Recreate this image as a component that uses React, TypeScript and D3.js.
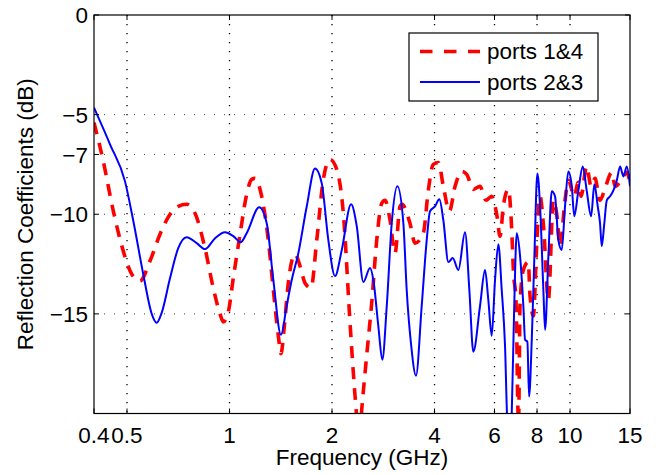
import React from "react";
import * as d3 from "d3";

// ports 1&4 (red dashed)
const freq14 = [0.4, 0.426, 0.456, 0.4876, 0.516, 0.546, 0.584, 0.625, 0.669, 0.707, 0.748, 0.792, 0.847, 0.896, 0.938, 0.959, 0.992, 1.026, 1.074, 1.123, 1.162, 1.188, 1.243, 1.3, 1.345, 1.391, 1.416, 1.449, 1.488, 1.557, 1.611, 1.666, 1.735, 1.804, 1.886, 1.973, 2.065, 2.159, 2.259, 2.31, 2.364, 2.4, 2.445, 2.528, 2.616, 2.706, 2.799, 2.862, 2.961, 3.062, 3.168, 3.211, 3.388, 3.505, 3.708, 3.835, 3.967, 4.105, 4.246, 4.422, 4.596, 4.808, 4.973, 5.2, 5.441, 5.666, 5.888, 6.104, 6.229, 6.37, 6.59, 6.742, 6.816, 6.94, 6.975, 7.01, 7.06, 7.133, 7.293, 7.541, 7.63, 7.803, 7.985, 8.166, 8.35, 8.638, 8.933, 9.141, 9.345, 9.667, 9.886, 10.29, 10.56, 10.77, 11.19, 11.53, 11.84, 12.25, 12.67, 13.26, 13.56, 14.19, 14.68, 15.0];
const db14 = [-5.4, -7.35, -9.85, -11.85, -13.0, -13.35, -12.35, -11.0, -10.0, -9.6, -9.5, -9.95, -11.7, -13.7, -15.0, -15.4, -14.9, -13.2, -11.0, -9.0, -8.25, -8.2, -9.1, -11.3, -13.8, -16.1, -17.0, -15.6, -13.45, -12.0, -12.6, -13.45, -13.7, -11.3, -8.25, -7.25, -7.75, -9.95, -15.45, -17.95, -20.2, -21.5, -19.8, -17.1, -14.45, -11.3, -9.45, -9.3, -10.3, -11.95, -9.6, -9.5, -10.45, -11.45, -10.95, -8.8, -7.5, -7.4, -8.6, -9.85, -8.6, -7.85, -8.0, -8.75, -8.6, -9.3, -9.1, -10.1, -11.1, -9.6, -8.75, -10.8, -12.8, -14.4, -16.1, -18.8, -20.5, -14.5, -12.8, -12.4, -14.1, -15.1, -11.5, -9.1, -10.5, -14.3, -9.3, -10.0, -11.6, -9.3, -8.3, -9.1, -8.4, -9.1, -7.6, -8.6, -8.2, -9.3, -8.7, -7.9, -8.6, -8.25, -7.9, -8.4];

// ports 2&3 (blue solid)
const freq23 = [0.4, 0.446, 0.4933, 0.522, 0.558, 0.591, 0.611, 0.632, 0.669, 0.707, 0.748, 0.801, 0.847, 0.907, 0.97, 1.026, 1.079, 1.123, 1.223, 1.286, 1.345, 1.416, 1.472, 1.523, 1.593, 1.686, 1.783, 1.866, 1.951, 2.041, 2.136, 2.275, 2.364, 2.472, 2.586, 2.645, 2.735, 2.81, 2.896, 2.995, 3.111, 3.24, 3.314, 3.412, 3.529, 3.668, 3.794, 3.88, 4.013, 4.133, 4.246, 4.392, 4.524, 4.699, 4.916, 5.062, 5.2, 5.441, 5.628, 5.755, 5.888, 6.022, 6.158, 6.301, 6.443, 6.545, 6.642, 6.742, 6.848, 6.975, 7.133, 7.293, 7.378, 7.494, 7.581, 7.72, 7.858, 8.018, 8.166, 8.35, 8.447, 8.638, 8.839, 9.036, 9.24, 9.454, 9.667, 9.886, 10.12, 10.29, 10.58, 10.9, 11.19, 11.53, 11.79, 12.06, 12.25, 12.39, 12.61, 12.82, 13.11, 13.41, 13.72, 14.03, 14.34, 14.68, 15.0];
const db23 = [-4.65, -6.5, -8.35, -10.35, -13.0, -15.0, -15.45, -14.95, -13.2, -11.7, -11.15, -11.45, -11.75, -11.2, -10.9, -11.1, -11.4, -10.95, -9.65, -10.45, -13.3, -16.05, -14.6, -13.3, -11.95, -9.6, -7.7, -8.45, -11.3, -13.1, -11.8, -9.5, -10.6, -13.4, -12.7, -13.3, -15.6, -17.3, -14.6, -10.45, -8.6, -10.45, -13.8, -16.5, -18.1, -14.6, -11.3, -9.85, -9.6, -9.25, -10.3, -12.4, -12.2, -12.8, -10.9, -13.8, -16.9, -14.6, -12.8, -14.3, -16.1, -13.3, -11.5, -13.8, -16.6, -20.5, -21.5, -20.0, -15.0, -10.95, -12.1, -14.6, -16.3, -16.4, -19.15, -16.3, -12.1, -7.95, -9.6, -13.8, -15.8, -12.1, -8.85, -9.1, -11.3, -11.8, -9.6, -7.85, -8.6, -10.1, -8.8, -7.6, -8.8, -10.1, -8.5, -9.6, -10.45, -11.6, -10.45, -9.3, -9.1, -8.8, -8.3, -7.6, -8.1, -7.6, -8.6];

const xTicks = [0.4, 0.5, 1, 2, 4, 6, 8, 10, 15];
const xTickLabels = ["0.4", "0.5", "1", "2", "4", "6", "8", "10", "15"];
const yTicks = [0, -5, -7, -10, -15];
const yTickLabels = ["0", "\u22125", "\u22127", "\u221210", "\u221215"];
const seriesNames = ["ports 1&4", "ports 2&3"];

const W = 658, H = 475;
const L = 94, R = 630, T = 15, B = 413.5;
const FONT = "'Liberation Sans', Arial, Helvetica, sans-serif";

export default function App() {
  const x = d3.scaleLog().domain([0.4, 15]).range([L, R]);
  const y = d3.scaleLinear().domain([-20, 0]).range([B, T]);
  const line = d3.line<[number, number]>().x(d => x(d[0])).y(d => y(d[1])).curve(d3.curveMonotoneX);
  const p14 = line(freq14.map((f, i) => [f, db14[i]] as [number, number])) || "";
  const p23 = line(freq23.map((f, i) => [f, db23[i]] as [number, number])) || "";
  const fs = 22.5;
  return (
    <svg width={W} height={H} style={{ position: "absolute", left: 0, top: 0, background: "#fff" }} fontFamily={FONT}>
      <defs>
        <clipPath id="plotclip">
          <rect x={L} y={T} width={R - L} height={B - T} />
        </clipPath>
      </defs>
      <rect x={0} y={0} width={W} height={H} fill="#fff" />
      {/* grid */}
      {xTicks.slice(1, -1).map((t, i) => (
        <line key={"gx" + i} x1={x(t)} x2={x(t)} y1={T} y2={B} stroke="#000" strokeWidth={1.3} strokeDasharray="1.3,7.7" />
      ))}
      {yTicks.slice(1).map((t, i) => (
        <line key={"gy" + i} x1={L} x2={R} y1={y(t)} y2={y(t)} stroke="#444" strokeWidth={1} strokeDasharray="1,9" />
      ))}
      {/* curves */}
      <g clipPath="url(#plotclip)">
        <path d={p14} fill="none" stroke="#ff0000" strokeWidth={3.6} strokeDasharray="12,9" />
        <path d={p23} fill="none" stroke="#0000ff" strokeWidth={2} />
      </g>
      {/* axes box */}
      <rect x={L} y={T} width={R - L} height={B - T} fill="none" stroke="#000" strokeWidth={1.2} />
      {/* ticks */}
      {xTicks.map((t, i) => (
        <g key={"tx" + i}>
          <line x1={x(t)} x2={x(t)} y1={B} y2={B - 5} stroke="#000" />
          <line x1={x(t)} x2={x(t)} y1={T} y2={T + 5} stroke="#000" />
          <text x={x(t)} y={442.5} fontSize={fs} textAnchor="middle" fill="#000">{xTickLabels[i]}</text>
        </g>
      ))}
      {yTicks.map((t, i) => (
        <g key={"ty" + i}>
          <line x1={L} x2={L + 5} y1={y(t)} y2={y(t)} stroke="#000" />
          <line x1={R} x2={R - 5} y1={y(t)} y2={y(t)} stroke="#000" />
          <text x={88} y={y(t)} dy="0.36em" fontSize={fs} textAnchor="end" fill="#000">{yTickLabels[i]}</text>
        </g>
      ))}
      {/* axis labels */}
      <text x={(L + R) / 2} y={465} fontSize={fs} textAnchor="middle" fill="#000">Frequency (GHz)</text>
      <text transform={`translate(33,${(T + B) / 2}) rotate(-90)`} fontSize={fs} textAnchor="middle" fill="#000">Reflection Coefficients (dB)</text>
      {/* legend */}
      <rect x={409} y={33} width={189} height={68} fill="#fff" stroke="#000" strokeWidth={1.2} />
      <line x1={420} x2={480} y1={51.5} y2={51.5} stroke="#ff0000" strokeWidth={3.6} strokeDasharray="12.5,11.5" />
      <line x1={420} x2={480} y1={82} y2={82} stroke="#0000ff" strokeWidth={2} />
      <text x={487} y={59} fontSize={fs} fill="#000">{seriesNames[0]}</text>
      <text x={487} y={90} fontSize={fs} fill="#000">{seriesNames[1]}</text>
    </svg>
  );
}
